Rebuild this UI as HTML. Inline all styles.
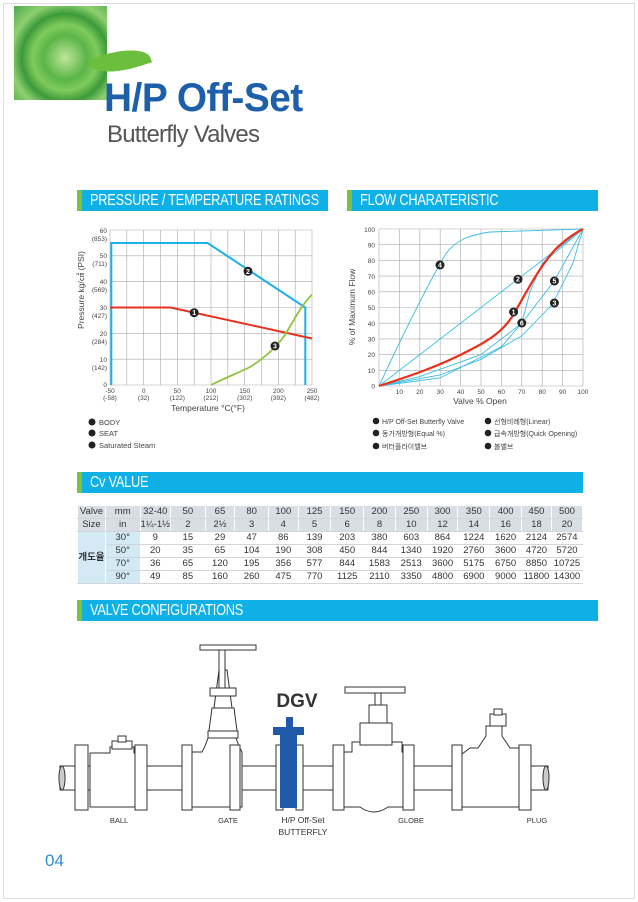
<!DOCTYPE html>
<html><head><meta charset="utf-8"><style>
body{margin:0;width:638px;height:902px;background:#fff;position:relative;overflow:hidden;font-family:"Liberation Sans","Noto Sans CJK KR",sans-serif}
.a{position:absolute}
.bar{position:absolute;height:21px;background:#0fb0e6;border-left:5px solid #7cc242;color:#fff;font-family:"Liberation Sans",sans-serif;font-size:16px;line-height:22px;padding-left:8px;box-sizing:border-box;white-space:nowrap;overflow:hidden}
.bar span{display:inline-block;transform:scaleX(0.8);transform-origin:left;letter-spacing:-0.3px}
table{border-collapse:collapse;font-size:9.5px;color:#333}
td{height:12px;line-height:12px;padding:0;text-align:center;border:1px solid #fff;border-bottom:1px solid #d0d6dc}
.h td{background:#d9dee4}
</style></head><body>
<div class="a" style="left:3px;top:3px;width:630px;height:894px;border:1px solid #ddd"></div>
<div class="a" style="left:14px;top:6px;width:93px;height:94px;background:radial-gradient(ellipse at 55% 55%,#bfe69a 0%,#5bb548 30%,#7fcb5c 45%,#3c9a3a 60%,#8ed070 75%,#4aa84a 100%)"></div>
<div class="a" style="left:90px;top:50px;width:60px;height:22px;background:#6bbf3c;border-radius:0 80% 0 80%;transform:rotate(-18deg)"></div>
<div class="a" style="left:104px;top:76px;font-size:40px;font-weight:bold;color:#1d5fab;letter-spacing:-0.5px;transform:scaleX(0.97);transform-origin:left">H/P Off-Set</div>
<div class="a" style="left:107px;top:121px;font-size:24px;color:#555;letter-spacing:-0.8px">Butterfly Valves</div>

<div class="bar" style="left:77px;top:190px;width:251px"><span>PRESSURE / TEMPERATURE RATINGS</span></div>
<div class="bar" style="left:347px;top:190px;width:251px"><span>FLOW CHARATERISTIC</span></div>
<div class="bar" style="left:77px;top:472px;width:506px"><span>Cv VALUE</span></div>
<div class="bar" style="left:77px;top:600px;width:521px"><span>VALVE CONFIGURATIONS</span></div>

<svg class="a" style="left:0;top:0" width="638" height="902" font-family="Liberation Sans,Noto Sans CJK KR,sans-serif">
<g stroke="#aaa" stroke-width="0.6">
<line x1="110" y1="230" x2="110" y2="385"/><line x1="126.8" y1="230" x2="126.8" y2="385"/><line x1="143.7" y1="230" x2="143.7" y2="385"/><line x1="160.5" y1="230" x2="160.5" y2="385"/><line x1="177.3" y1="230" x2="177.3" y2="385"/><line x1="194.2" y1="230" x2="194.2" y2="385"/><line x1="211" y1="230" x2="211" y2="385"/><line x1="227.8" y1="230" x2="227.8" y2="385"/><line x1="244.7" y1="230" x2="244.7" y2="385"/><line x1="261.5" y1="230" x2="261.5" y2="385"/><line x1="278.3" y1="230" x2="278.3" y2="385"/><line x1="295.2" y1="230" x2="295.2" y2="385"/><line x1="312" y1="230" x2="312" y2="385"/>
<line x1="110" y1="230" x2="312" y2="230"/><line x1="110" y1="255.8" x2="312" y2="255.8"/><line x1="110" y1="281.7" x2="312" y2="281.7"/><line x1="110" y1="307.5" x2="312" y2="307.5"/><line x1="110" y1="333.3" x2="312" y2="333.3"/><line x1="110" y1="359.2" x2="312" y2="359.2"/><line x1="110" y1="385" x2="312" y2="385"/>
</g>
<polyline points="111.3,385 111.3,243 207.6,243 305.3,307.5 305.3,385" fill="none" stroke="#1cb0e8" stroke-width="2"/>
<polyline points="110,307.5 170.6,307.5 312,338.5" fill="none" stroke="#e8321e" stroke-width="2"/>
<path d="M211,385 C225,378 240,372 250,367 C265,358 278,345 285,335 C295,318 303,303 312,294.6" fill="none" stroke="#8cc63f" stroke-width="1.8"/>
<g font-size="7" fill="#fff" text-anchor="middle" font-weight="bold">
<circle cx="194.2" cy="312.7" r="4.5" fill="#222"/><text x="194.2" y="315.2">1</text>
<circle cx="248" cy="271.3" r="4.5" fill="#222"/><text x="248" y="273.8">2</text>
<circle cx="275" cy="346" r="4.5" fill="#222"/><text x="275" y="348.5">3</text>
</g>
<g font-size="6.5" fill="#444" text-anchor="end">
<text x="107" y="233">60</text><text x="107" y="241">(853)</text>
<text x="107" y="258">50</text><text x="107" y="266">(711)</text>
<text x="107" y="284">40</text><text x="107" y="292">(569)</text>
<text x="107" y="310">30</text><text x="107" y="318">(427)</text>
<text x="107" y="336">20</text><text x="107" y="344">(284)</text>
<text x="107" y="362">10</text><text x="107" y="370">(142)</text>
<text x="107" y="387">0</text>
</g>
<g font-size="6.5" fill="#444" text-anchor="middle">
<text x="110" y="393">-50</text><text x="110" y="400">(-58)</text>
<text x="143.7" y="393">0</text><text x="143.7" y="400">(32)</text>
<text x="177.3" y="393">50</text><text x="177.3" y="400">(122)</text>
<text x="211" y="393">100</text><text x="211" y="400">(212)</text>
<text x="244.7" y="393">150</text><text x="244.7" y="400">(302)</text>
<text x="278.3" y="393">200</text><text x="278.3" y="400">(392)</text>
<text x="312" y="393">250</text><text x="312" y="400">(482)</text>
<text x="208" y="411" font-size="8.5">Temperature °C(°F)</text>
<text transform="translate(84,290) rotate(-90)" font-size="8.5">Pressure kg/㎠ (PSI)</text>
</g>
<g font-size="7.5" fill="#444">
<circle cx="92" cy="422" r="3.5" fill="#222"/><text x="99" y="425">BODY</text>
<circle cx="92" cy="433" r="3.5" fill="#222"/><text x="99" y="436">SEAT</text>
<circle cx="92" cy="445" r="3.5" fill="#222"/><text x="99" y="448">Saturated Steam</text>
</g>

<g stroke="#aaa" stroke-width="0.6">
<line x1="379" y1="229" x2="379" y2="386"/><line x1="399.4" y1="229" x2="399.4" y2="386"/><line x1="419.8" y1="229" x2="419.8" y2="386"/><line x1="440.2" y1="229" x2="440.2" y2="386"/><line x1="460.6" y1="229" x2="460.6" y2="386"/><line x1="481" y1="229" x2="481" y2="386"/><line x1="501.4" y1="229" x2="501.4" y2="386"/><line x1="521.8" y1="229" x2="521.8" y2="386"/><line x1="542.2" y1="229" x2="542.2" y2="386"/><line x1="562.6" y1="229" x2="562.6" y2="386"/><line x1="583" y1="229" x2="583" y2="386"/>
<line x1="379" y1="229" x2="583" y2="229"/><line x1="379" y1="244.7" x2="583" y2="244.7"/><line x1="379" y1="260.4" x2="583" y2="260.4"/><line x1="379" y1="276.1" x2="583" y2="276.1"/><line x1="379" y1="291.8" x2="583" y2="291.8"/><line x1="379" y1="307.5" x2="583" y2="307.5"/><line x1="379" y1="323.2" x2="583" y2="323.2"/><line x1="379" y1="338.9" x2="583" y2="338.9"/><line x1="379" y1="354.6" x2="583" y2="354.6"/><line x1="379" y1="370.3" x2="583" y2="370.3"/><line x1="379" y1="386" x2="583" y2="386"/>
</g>
<g fill="none" stroke="#3bbde6" stroke-width="0.9">
<line x1="379" y1="386" x2="583" y2="229"/>
<path d="M379,386 C405,330 425,290 445,255 C455,240 470,235 490,232 L583,229"/>
<polyline points="379,386 440,375 481,359.3 521.8,335.8 552.4,304.4 572.8,263.5 583,229"/>
<polyline points="379,386 419.8,376.6 481,354.6 521.8,323.2 554.4,280.8 583,229"/>
<polyline points="379,386 440,378 501.4,346.8 521.8,323 530,291.8 542.2,263.5 583,229"/>
</g>
<path d="M379,386 C410,376 440,366 470,350 C490,340 505,330 515,312 C530,285 545,258 560,245 C570,236 577,232 583,229" fill="none" stroke="#e8321e" stroke-width="2.2"/>
<g font-size="7" fill="#fff" text-anchor="middle" font-weight="bold">
<circle cx="440" cy="265" r="4.5" fill="#222"/><text x="440" y="267.5">4</text>
<circle cx="518" cy="279.2" r="4.5" fill="#222"/><text x="518" y="281.7">2</text>
<circle cx="554.4" cy="281" r="4.5" fill="#222"/><text x="554.4" y="283.5">5</text>
<circle cx="513.6" cy="312" r="4.5" fill="#222"/><text x="513.6" y="314.5">1</text>
<circle cx="521.8" cy="323" r="4.5" fill="#222"/><text x="521.8" y="325.5">6</text>
<circle cx="554.4" cy="303" r="4.5" fill="#222"/><text x="554.4" y="305.5">3</text>
</g>
<g font-size="6.5" fill="#444" text-anchor="end">
<text x="375" y="232">100</text><text x="375" y="247.5">90</text><text x="375" y="263">80</text><text x="375" y="279">70</text><text x="375" y="294.5">60</text><text x="375" y="310">50</text><text x="375" y="326">40</text><text x="375" y="341.5">30</text><text x="375" y="357">20</text><text x="375" y="373">10</text><text x="375" y="388.5">0</text>
</g>
<g font-size="6.5" fill="#444" text-anchor="middle">
<text x="399.4" y="394">10</text><text x="419.8" y="394">20</text><text x="440.2" y="394">30</text><text x="460.6" y="394">40</text><text x="481" y="394">50</text><text x="501.4" y="394">60</text><text x="521.8" y="394">70</text><text x="542.2" y="394">80</text><text x="562.6" y="394">90</text><text x="583" y="394">100</text>
<text x="480" y="404" font-size="8.5">Valve % Open</text>
<text transform="translate(355,307) rotate(-90)" font-size="8.5">% of Maximum Flow</text>
</g>
<g font-size="7" fill="#444">
<circle cx="376" cy="421" r="3.3" fill="#222"/><text x="382" y="424">H/P Off-Set Butterfly Valve</text>
<circle cx="376" cy="433" r="3.3" fill="#222"/><text x="382" y="436">동가개방형(Equal %)</text>
<circle cx="376" cy="446" r="3.3" fill="#222"/><text x="382" y="449">버터플라이밸브</text>
<circle cx="488" cy="421" r="3.3" fill="#222"/><text x="494" y="424">선형비례형(Linear)</text>
<circle cx="488" cy="433" r="3.3" fill="#222"/><text x="494" y="436">급속개방형(Quick Opening)</text>
<circle cx="488" cy="446" r="3.3" fill="#222"/><text x="494" y="449">볼밸브</text>
</g>

<g stroke="#333" stroke-width="1" fill="#fff">
<rect x="60" y="766" width="488" height="24"/>
<ellipse cx="62" cy="778" rx="3" ry="12" fill="#ccc"/><ellipse cx="546" cy="778" rx="3" ry="12" fill="#ccc"/>
<path d="M90,753 h20 v-6 h24 v6 h2 v54 h-46z"/><rect x="112" y="741" width="20" height="8"/><rect x="118" y="736" width="8" height="6"/>
<path d="M192,752 h10 q3,-5 6,-14 h28 q3,9 6,14 v55 h-50z"/><path d="M208,738 l4,-30 h22 l4,30z"/><rect x="208" y="731" width="30" height="7"/><path d="M214,708 l5,-38 h8 l5,38z"/><rect x="210" y="688" width="26" height="8"/><rect x="219" y="650" width="6" height="38"/><rect x="200" y="645" width="56" height="5"/>
<path d="M344,752 h8 v-10 h50 v10 h1 v55 h-15 q-14,10 -28,0 h-16z"/><rect x="360" y="723" width="32" height="22"/><rect x="369" y="705" width="18" height="18"/><rect x="375" y="693" width="6" height="12"/><rect x="345" y="687" width="60" height="6"/>
<path d="M462,754 l8,-6 h8 l8,-12 v-10 h16 v10 l8,12 h8 l8,6 v53 h-64z"/><rect x="490" y="714" width="16" height="12"/><rect x="494" y="709" width="8" height="6"/>
<rect x="75" y="745" width="13" height="65"/><rect x="135" y="745" width="12" height="65"/>
<rect x="182" y="745" width="10" height="65"/><rect x="230" y="745" width="10" height="65"/>
<rect x="276" y="745" width="7" height="65"/><rect x="296" y="745" width="7" height="65"/>
<rect x="333" y="745" width="11" height="65"/><rect x="403" y="745" width="11" height="65"/>
<rect x="452" y="745" width="10" height="65"/><rect x="519" y="745" width="12" height="65"/>
</g>
<g fill="#1e5aa8">
<rect x="286" y="717" width="7" height="12"/><rect x="273" y="727" width="31" height="8"/><rect x="280" y="735" width="17" height="73"/>
</g>
<text x="297" y="707" font-size="19" font-weight="bold" fill="#333" text-anchor="middle">DGV</text>
<g font-size="7.5" fill="#333" text-anchor="middle">
<text x="119" y="823">BALL</text><text x="228" y="823">GATE</text><text x="303" y="823" font-size="8.5">H/P Off-Set</text><text x="303" y="835" font-size="8.5">BUTTERFLY</text><text x="411" y="823">GLOBE</text><text x="537" y="823">PLUG</text>
</g>
<text x="45" y="866" font-size="17" fill="#2a8fd0">04</text>
</svg>

<table class="a" style="left:77px;top:505px;width:506px">
<colgroup><col style="width:28px"><col style="width:35px"><col style="width:28px"><col style="width:35px"><col style="width:30px"><col style="width:34px"><col style="width:30px"><col style="width:33px"><col style="width:33px"><col style="width:32px"><col style="width:32px"><col style="width:31px"><col style="width:32px"><col style="width:32px"><col style="width:30px"><col style="width:31px"></colgroup>
<tr class="h"><td>Valve</td><td>mm</td><td>32-40</td><td>50</td><td>65</td><td>80</td><td>100</td><td>125</td><td>150</td><td>200</td><td>250</td><td>300</td><td>350</td><td>400</td><td>450</td><td>500</td></tr>
<tr class="h"><td>Size</td><td>in</td><td>1¼-1½</td><td>2</td><td>2½</td><td>3</td><td>4</td><td>5</td><td>6</td><td>8</td><td>10</td><td>12</td><td>14</td><td>16</td><td>18</td><td>20</td></tr>
<tr><td rowspan="4" style="background:#d3e9f4;font-weight:bold">개도율</td><td style="background:#d3e9f4">30°</td><td>9</td><td>15</td><td>29</td><td>47</td><td>86</td><td>139</td><td>203</td><td>380</td><td>603</td><td>864</td><td>1224</td><td>1620</td><td>2124</td><td>2574</td></tr>
<tr><td style="background:#d3e9f4">50°</td><td>20</td><td>35</td><td>65</td><td>104</td><td>190</td><td>308</td><td>450</td><td>844</td><td>1340</td><td>1920</td><td>2760</td><td>3600</td><td>4720</td><td>5720</td></tr>
<tr><td style="background:#d3e9f4">70°</td><td>36</td><td>65</td><td>120</td><td>195</td><td>356</td><td>577</td><td>844</td><td>1583</td><td>2513</td><td>3600</td><td>5175</td><td>6750</td><td>8850</td><td>10725</td></tr>
<tr><td style="background:#d3e9f4">90°</td><td>49</td><td>85</td><td>160</td><td>260</td><td>475</td><td>770</td><td>1125</td><td>2110</td><td>3350</td><td>4800</td><td>6900</td><td>9000</td><td>11800</td><td>14300</td></tr>
</table>
</body></html>
